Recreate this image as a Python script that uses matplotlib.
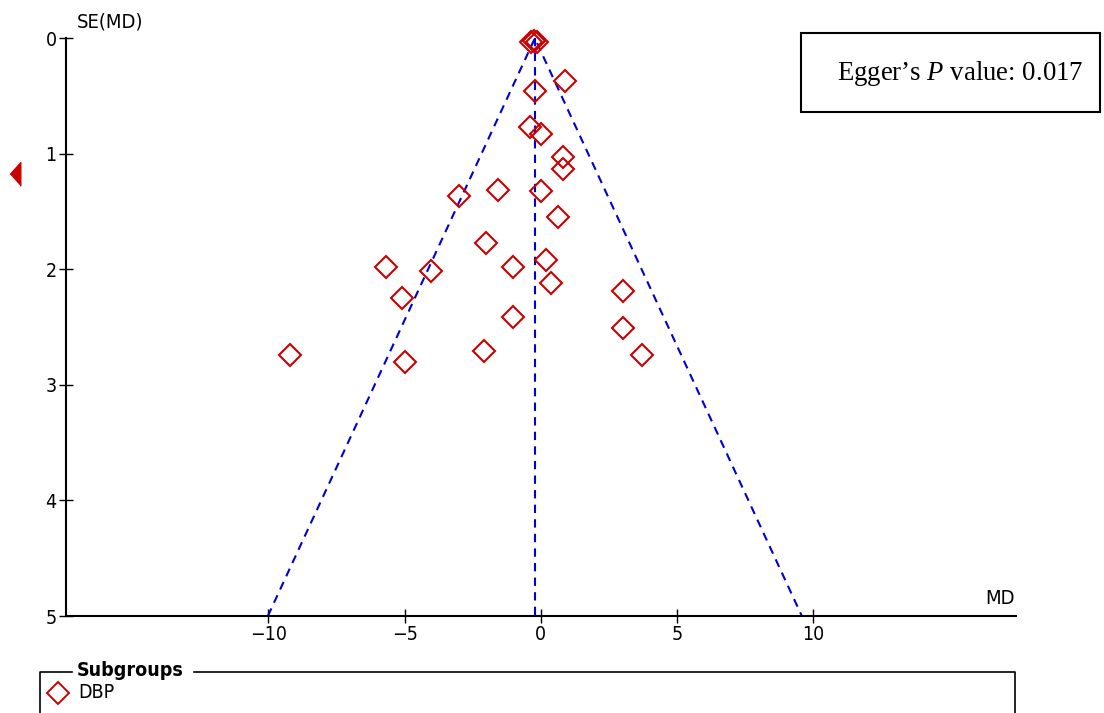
import matplotlib.pyplot as plt
from matplotlib.lines import Line2D
from matplotlib.patches import Rectangle

# study estimates
md = [-0.35, -0.25, -0.15, 0.89, -0.20, -0.38, 0.01, 0.82, 0.82,
      -3.02, -1.58, 0.00, 0.64, -2.02, -5.69, -4.05, -1.02, 0.18,
      0.38, -5.11, 3.02, -1.02, 3.02, -9.21, -4.99, -2.08, 3.73]
se = [0.03, 0.02, 0.03, 0.37, 0.46, 0.77, 0.83, 1.03, 1.13,
      1.365, 1.31, 1.325, 1.545, 1.77, 1.98, 2.01, 1.98, 1.92,
      2.12, 2.25, 2.19, 2.41, 2.51, 2.74, 2.80, 2.71, 2.74]
pooled_md = -0.22
se_max = 5
bias_se = 1.175
egger_text = "Egger\u2019s $\\mathit{P}$ value: 0.017"
subgroup = "DBP"

red = "#c80000"
blue = "#0000cc"

plt.rcParams["font.family"] = "DejaVu Sans"
plt.rcParams["font.stretch"] = "condensed"
plt.rcParams["mathtext.fontset"] = "custom"
plt.rcParams["mathtext.rm"] = "Liberation Serif"
plt.rcParams["mathtext.it"] = "Liberation Serif:italic"

W, H = 1104, 713
fig = plt.figure(figsize=(W / 100, H / 100), dpi=100)


def fx(px):
    return px / W


def fy(py):
    return 1 - py / H


ax = fig.add_axes([fx(66), fy(616), fx(1015.7) - fx(66), fy(38.3) - fy(616)])

# funnel
ax.plot([pooled_md - 1.96 * se_max, pooled_md, pooled_md + 1.96 * se_max],
        [se_max, 0, se_max], color=blue, lw=1.5, ls=(0, (4, 3)))
ax.plot([pooled_md, pooled_md], [0, se_max], color=blue, lw=1.5, ls=(0, (4, 3)))

ax.plot(md, se, ls="none", marker="D", ms=11, mfc="none", mec=red, mew=1.5,
        clip_on=False)

ax.set_xlim(-17.43, 17.43)
ax.set_ylim(5, 0)
ax.set_xticks([-10, -5, 0, 5, 10])
ax.set_yticks([0, 1, 2, 3, 4, 5])
ax.tick_params(direction="inout", length=9.5, width=1, labelsize=14, pad=2)
for s in ["top", "right"]:
    ax.spines[s].set_visible(False)
for s in ["left", "bottom"]:
    ax.spines[s].set_linewidth(1.5)

# bias indicator on the left
ax.plot([-0.054], [bias_se], transform=ax.get_yaxis_transform(),
        marker=[(-0.45, 0), (0.45, 1), (0.45, -1)], ms=17, color=red,
        clip_on=False)

fig.text(fx(77), fy(22), "SE(MD)", fontsize=14.5, ha="left", va="center")
fig.text(fx(1015), fy(598), "MD", fontsize=14.5, ha="right", va="center")

# Egger box
fig.add_artist(Rectangle((fx(801), fy(112)), fx(1100) - fx(801), fy(33) - fy(112),
                         transform=fig.transFigure, fill=False, lw=1.5,
                         edgecolor="black"))
fig.text(fx(960), fy(73), egger_text, fontsize=19.3, family="Liberation Serif",
         stretch="normal", ha="center", va="center")

# subgroup legend
fig.add_artist(Line2D([fx(40), fx(40), fx(72)], [fy(730), fy(672), fy(672)],
                      transform=fig.transFigure, color="black", lw=1.2))
fig.add_artist(Line2D([fx(194), fx(1015), fx(1015)], [fy(672), fy(672), fy(730)],
                      transform=fig.transFigure, color="black", lw=1.2))
fig.text(fx(77), fy(670), "Subgroups", fontsize=14, fontweight="bold",
         ha="left", va="center")
fig.add_artist(Line2D([fx(58)], [fy(693)], transform=fig.transFigure, ls="none",
                      marker="D", ms=11.5, mfc="none", mec=red, mew=1.4))
fig.text(fx(78), fy(693), subgroup, fontsize=14, ha="left", va="center")

fig.savefig("out.png", dpi=100)
